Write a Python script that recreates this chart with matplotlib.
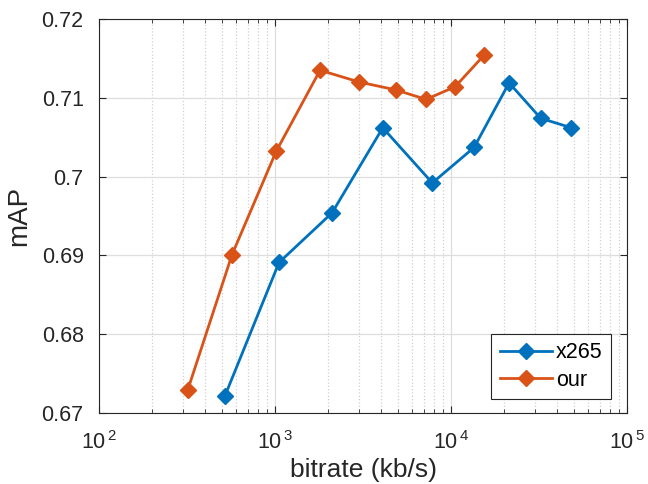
import matplotlib
matplotlib.use('Agg')
from matplotlib import pyplot as plt
from matplotlib.ticker import FixedLocator, FixedFormatter

plt.rcParams['font.family'] = ['Liberation Sans', 'DejaVu Sans']
plt.rcParams['mathtext.fontset'] = 'custom'
plt.rcParams['mathtext.rm'] = 'Liberation Sans'
plt.rcParams['mathtext.it'] = 'Liberation Sans'

# MATLAB default colours
Blue = '#0072BD'
Orange = '#D95319'
Dark = '#262626'

x265_rate = [520, 1054, 2109, 4095, 7830, 13520, 21380, 32350, 48310]
x265_map = [0.6722, 0.6891, 0.6954, 0.7062, 0.6992, 0.7037, 0.7119, 0.7074, 0.7062]

our_rate = [319, 570, 1015, 1803, 3013, 4870, 7211, 10540, 15400]
our_map = [0.6729, 0.6901, 0.7032, 0.7135, 0.7120, 0.7110, 0.7098, 0.7114, 0.7154]

xticks = [1e2, 1e3, 1e4, 1e5]
xticklabels = [r'$\mathregular{10^{\,2}}$', r'$\mathregular{10^{\,3}}$',
               r'$\mathregular{10^{\,4}}$', r'$\mathregular{10^{\,5}}$']
yticks = [0.67, 0.68, 0.69, 0.70, 0.71, 0.72]
yticklabels = ['0.67', '0.68', '0.69', '0.7', '0.71', '0.72']

fig = plt.figure(figsize=(6.48, 4.84), dpi=100)
ax = fig.add_axes([0.1528, 0.1467, 0.8148, 0.814])

ax.plot(x265_rate, x265_map, color=Blue, marker='D', markersize=8.5, linewidth=2, label='x265')
ax.plot(our_rate, our_map, color=Orange, marker='D', markersize=8.5, linewidth=2, label='our')

ax.set_xscale('log')
ax.set_xlim(1e2, 1e5)
ax.set_ylim(0.67, 0.72)
ax.xaxis.set_major_locator(FixedLocator(xticks))
ax.xaxis.set_major_formatter(FixedFormatter(xticklabels))
ax.set_yticks(yticks)
ax.set_yticklabels(yticklabels)

ax.grid(True, which='major', color='#dedede', linewidth=0.9)
ax.grid(True, which='minor', axis='x', color='#d0d0d0', linestyle=':', linewidth=0.9)
ax.set_axisbelow(True)

ax.tick_params(which='both', direction='in', top=True, right=True, labelsize=15.5,
               color=Dark, labelcolor=Dark)
ax.tick_params(which='major', length=5)
ax.tick_params(which='minor', length=3)
ax.tick_params(axis='y', pad=11)
ax.tick_params(axis='x', pad=13)
for s in ax.spines.values():
    s.set_color(Dark)
    s.set_linewidth(0.8)

ax.set_xlabel('bitrate (kb/s)', fontsize=19, color=Dark, labelpad=3)
ax.set_ylabel('mAP', fontsize=20, color=Dark, labelpad=7)

leg = ax.legend(loc='lower right', fontsize=15.5, fancybox=False, edgecolor=Dark,
                framealpha=1, handlelength=2.4, handletextpad=0.2, borderpad=0.4,
                labelspacing=0.3, borderaxespad=0, bbox_to_anchor=(0.97, 0.035))
leg.get_frame().set_linewidth(0.8)

fig.savefig('out.png', dpi=100)
